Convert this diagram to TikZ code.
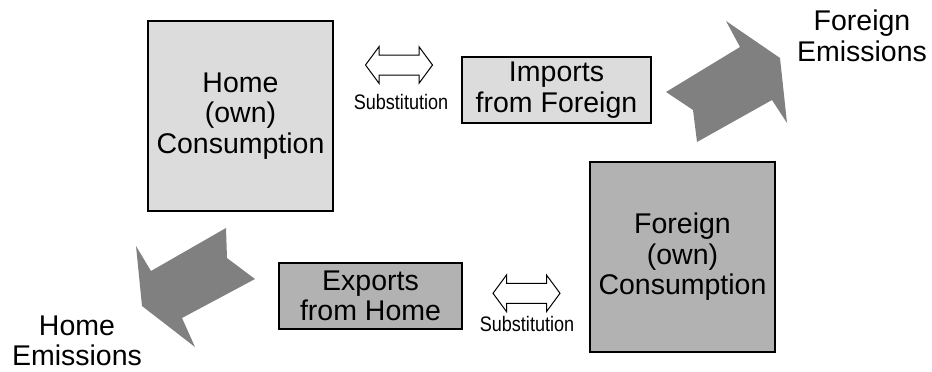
\documentclass[tikz,border=0pt]{standalone}
\usepackage{fontspec}
\setmainfont{Liberation Sans}
\usetikzlibrary{positioning}

\definecolor{lightfill}{HTML}{DCDCDC}
\definecolor{darkfill}{HTML}{B2B2B2}
\definecolor{arrowfill}{HTML}{808080}

\tikzset{
  bigtext/.style={font=\fontsize{28.5}{30.5}\selectfont, align=center},
  lightbox/.style={bigtext, draw, line width=1.2pt, fill=lightfill, inner sep=0pt},
  darkbox/.style={bigtext, draw, line width=1.2pt, fill=darkfill, inner sep=0pt},
  bigarrow/.style={fill=arrowfill},
  subarrow/.pic={
    \draw[line width=1pt, fill=white] (-33.5,0) -- (-20,-18.3) -- (-20,-10)
      -- (20,-10) -- (20,-18.3) -- (33.5,0) -- (20,18.3) -- (20,10)
      -- (-20,10) -- (-20,18.3) -- cycle;
  },
  sublabel/.style={font=\fontsize{21}{23}\selectfont, inner sep=0pt}
}

\begin{document}
\begin{tikzpicture}[x=1pt, y=-1pt]
\useasboundingbox (0,0) rectangle (932,372);

% Boxes
\node[lightbox, minimum width=185pt, minimum height=190pt] (home) at (240.5,116) {Home\\(own)\\Consumption};
\node[lightbox, minimum width=189pt, minimum height=66pt] (imports) at (556.5,90) {Imports\\from Foreign};
\node[darkbox, minimum width=185pt, minimum height=190pt] (foreign) at (682.5,257) {Foreign\\(own)\\Consumption};
\node[darkbox, minimum width=183pt, minimum height=66pt] (exports) at (370.5,296) {Exports\\from Home};

% Substitution arrows
\coordinate (subtop) at (399,65);
\pic at (subtop) {subarrow};
\node[sublabel] (subtoplabel) at (401,102) {\scalebox{0.86}[1]{Substitution}};
\coordinate (subbottom) at (526.5,293.3);
\pic at (subbottom) {subarrow};
\node[sublabel] (subbottomlabel) at (527,324) {\scalebox{0.86}[1]{Substitution}};

% Emission arrows
\fill[bigarrow] (666,92) -- (740,47) -- (726,21) -- (780,58) -- (787,123)
  -- (772,100) -- (697,142) -- (693,110) -- cycle;
\fill[bigarrow] (255,279) -- (227,258) -- (226,228) -- (151,271) -- (136,246)
  -- (142,306) -- (195,347) -- (182,318) -- cycle;

% Emission labels
\node[bigtext] (foreignem) at (862,36) {Foreign\\Emissions};
\node[bigtext] (homeem) at (77,341) {Home\\Emissions};

\end{tikzpicture}
\end{document}
